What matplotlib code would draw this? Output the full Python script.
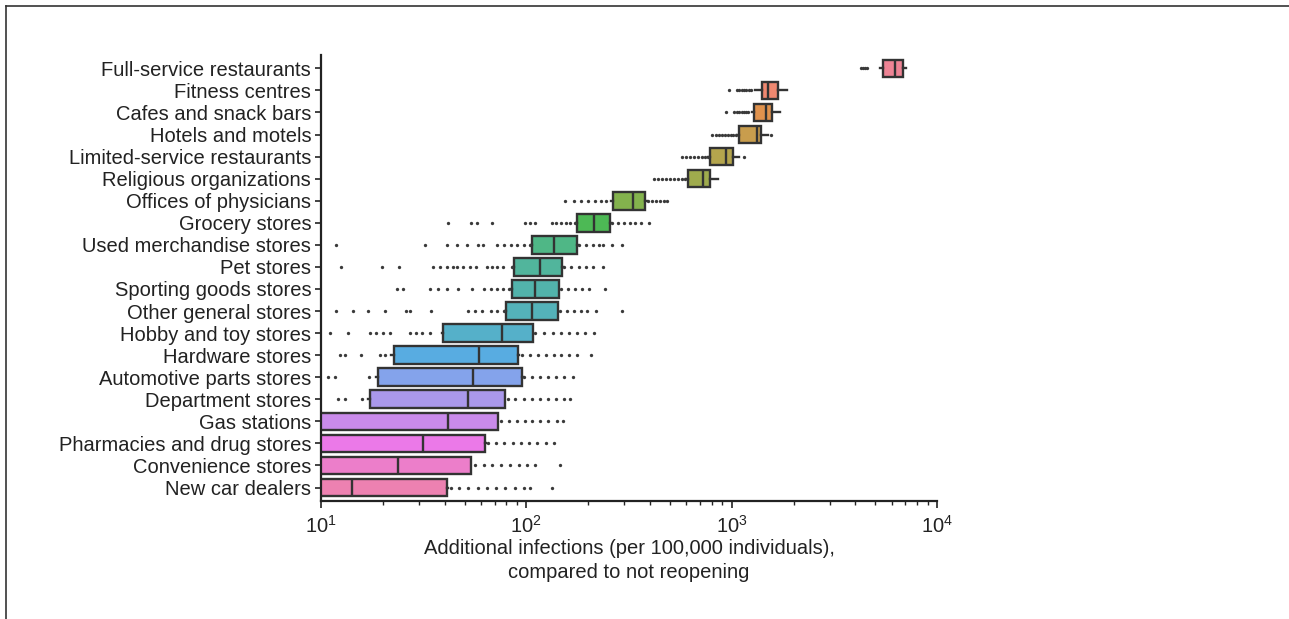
import matplotlib
matplotlib.use("Agg")
import matplotlib.pyplot as plt
from matplotlib.lines import Line2D
import matplotlib.ticker as mticker
import seaborn as sns

# ---------- data ----------
categories = [
    "Full-service restaurants", "Fitness centres", "Cafes and snack bars",
    "Hotels and motels", "Limited-service restaurants", "Religious organizations",
    "Offices of physicians", "Grocery stores", "Used merchandise stores",
    "Pet stores", "Sporting goods stores", "Other general stores",
    "Hobby and toy stores", "Hardware stores", "Automotive parts stores",
    "Department stores", "Gas stations", "Pharmacies and drug stores",
    "Convenience stores", "New car dealers",
]

q1 = [5460, 1406, 1286, 1087, 785, 610, 264, 177, 107, 87, 85, 80,
      39.3, 22.7, 18.9, 17.3, 6, 5, 5, 5]
medians = [6250, 1496, 1471, 1330, 939, 726, 331, 214, 136, 117, 110, 107,
           76, 59, 55, 52, 41.6, 31.4, 23.7, 14.2]
q3 = [6840, 1683, 1574, 1391, 1016, 785, 379, 256, 177, 149, 144, 143,
      108, 91, 95, 79, 72.8, 63, 53.8, 41.1]
whis_lo = [5300, 1300, 1250, 1060, 770, 600, 258, 174, 105, 86, 84, 79,
           39, 22, 18.5, 17, 3, 3, 3, 3]
whis_hi = [7070, 1860, 1720, 1500, 1080, 860, 385, 258, 178, 150, 145, 143,
           108, 92, 96, 79, 73, 63.5, 54, 41.5]

fliers = [
    [4250, 4350, 4450, 4550],
    [975, 1060, 1090, 1120, 1150, 1180, 1210, 1235],
    [940, 1030, 1060, 1090, 1120, 1150, 1180, 1200],
    [805, 840, 870, 900, 930, 960, 990, 1020, 1050, 1560],
    [575, 600, 625, 655, 685, 715, 745, 770, 1150],
    [420, 440, 460, 480, 500, 525, 550, 575, 595],
    [155, 170, 185, 200, 215, 230, 245, 390, 410, 430, 450, 470, 485],
    [41.6, 53.8, 57.6, 68.1, 98.6, 104, 110, 133, 140, 148, 156, 164, 172,
     262, 280, 300, 320, 340, 360, 396],
    [11.8, 32.1, 41.1, 45.9, 51.4, 58.2, 61.5, 72, 78, 84, 90, 97, 104,
     180, 195, 210, 225, 235, 261, 292],
    [12.5, 19.8, 24.0, 35, 38, 41, 44, 46, 49, 53, 57, 64, 68, 72, 77, 85,
     152, 165, 180, 195, 212, 236],
    [23.5, 25.1, 34, 37, 41, 46.5, 54.4, 62, 67, 72, 77, 82,
     148, 160, 172, 186, 203, 242],
    [11.8, 14.3, 16.9, 20.5, 25.9, 27.1, 34.4, 52, 56, 61, 67, 72, 78,
     146, 158, 170, 184, 198, 219, 292],
    [11.1, 13.5, 17.3, 18.5, 20, 21.7, 27, 29, 31, 34,
     110, 122, 135, 148, 162, 177, 193, 214],
    [12.4, 13.1, 15.7, 19.4, 20.5, 95, 104, 114, 124, 136, 148, 161, 176, 207],
    [10.8, 11.7, 17.1, 97, 106, 116, 127, 139, 152, 168],
    [12.1, 13.1, 15.8, 81, 88, 97, 106, 117, 128, 140, 152, 163],
    [75, 82, 90, 98, 107, 117, 128, 141, 151],
    [65, 71, 78, 86, 94, 103, 113, 124, 136],
    [56, 62, 68, 75, 83, 92, 101, 110, 146],
    [43, 47, 52, 58, 64, 71, 79, 88, 97, 104, 133],
]

# ---------- plot ----------
plt.rcParams["font.family"] = ["Liberation Sans", "DejaVu Sans"]
plt.rcParams["mathtext.default"] = "regular"

colors = sns.husl_palette(len(categories), h=0.01, s=0.78, l=0.68)
edge = "#333333"
fs = 14.5

stats = []
for i, name in enumerate(categories):
    stats.append({
        "label": name, "q1": q1[i], "med": medians[i], "q3": q3[i],
        "whislo": whis_lo[i], "whishi": whis_hi[i], "fliers": fliers[i],
    })

fig = plt.figure(figsize=(12.89, 6.19), dpi=100)
ax = fig.add_axes([0.249, 0.191, 0.478, 0.72])

bp = ax.bxp(stats, positions=list(range(len(categories))), vert=False,
            widths=0.8, patch_artist=True, showcaps=False,
            boxprops=dict(edgecolor=edge, linewidth=1.7),
            medianprops=dict(color=edge, linewidth=1.7),
            whiskerprops=dict(color=edge, linewidth=1.7),
            flierprops=dict(marker="o", markersize=2.4, markerfacecolor="#3a3a3a",
                            markeredgecolor="none", linestyle="none"))
for patch, c in zip(bp["boxes"], colors):
    patch.set_facecolor(c)

ax.set_xscale("log")
ax.set_xlim(10, 10**4)
ax.set_ylim(len(categories) - 0.4, -0.6)
ax.set_yticks(range(len(categories)))
ax.set_yticklabels(categories, fontsize=fs, color="#222222")
ax.xaxis.set_major_locator(mticker.LogLocator(base=10))
ax.xaxis.set_minor_locator(mticker.LogLocator(base=10, subs=range(2, 10)))
ax.tick_params(axis="x", which="major", labelsize=fs, length=5, width=1.2,
               colors="#222222", pad=5)
ax.tick_params(axis="x", which="minor", length=3, width=1.0, colors="#222222")
ax.tick_params(axis="y", length=4, width=1.2, colors="#222222", pad=3)

for side in ("top", "right"):
    ax.spines[side].set_visible(False)
for side in ("left", "bottom"):
    ax.spines[side].set_linewidth(1.6)
    ax.spines[side].set_color("#222222")

ax.set_xlabel("Additional infections (per 100,000 individuals),\ncompared to not reopening",
              fontsize=fs, color="#222222", labelpad=2, linespacing=1.3)

# frame lines of the original picture
fig.add_artist(Line2D([0.0045, 0.0045], [0.0, 0.991], transform=fig.transFigure,
                      color="#333333", linewidth=1.2))
fig.add_artist(Line2D([0.0045, 1.0], [0.991, 0.991], transform=fig.transFigure,
                      color="#333333", linewidth=1.2))

fig.savefig("out.png", dpi=100)
